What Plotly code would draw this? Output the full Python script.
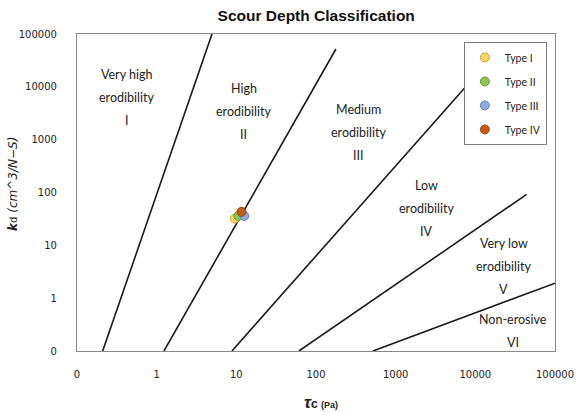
import math
import plotly.graph_objects as go

# Boundary lines (tau_c, k_d) endpoints
line_x = [[0.21, 4.95], [1.235, 178], [8.8, 7380], [61, 44000], [518, 100000]]
line_y = [[0.1, 100000], [0.1, 52000], [0.1, 9600], [0.1, 92], [0.1, 1.92]]

# Sample points
series_names = ["Type I", "Type II", "Type III", "Type IV"]
series_x = [9.6, 10.6, 12.6, 11.6]
series_y = [32, 36, 36, 43]
series_colors = ["#FFD966", "#8BC653", "#8FAADC", "#C55A11"]
series_lines = ["#B8860B", "#4E8A2A", "#4A6FA5", "#8A3A08"]

# Region labels: lines of text, centre position (data units)
region_lines = [["Very high", "erodibility", "I"],
                ["High", "erodibility", "II"],
                ["Medium", "erodibility", "III"],
                ["Low", "erodibility", "IV"],
                ["Very low", "erodibility", "V"],
                ["Non-erosive", "VI"]]
region_x = [0.42, 12.4, 345, 2460, 22800, 29500]
region_y = [6200, 3370, 1355, 50, 4.0, 0.24]

tick_vals = [0.1, 1, 10, 100, 1000, 10000, 100000]
tick_text = ["0", "1", "10", "100", "1000", "10000", "100000"]

x_title = "<b><i><span style='font-size:17px'>τ</span></i>c <span style='font-size:9px'>(Pa)</span></b>"
y_title = "<b><i>k</i></b><span style='font-size:10px'>d</span> <i>(cm^3/N−S)</i>"

fig = go.Figure()
for lx, ly in zip(line_x, line_y):
    fig.add_trace(go.Scatter(x=lx, y=ly, mode="lines",
                             line=dict(color="#1a1a1a", width=1.6),
                             showlegend=False, hoverinfo="skip"))

for n, x, y, c, lc in zip(series_names, series_x, series_y, series_colors, series_lines):
    fig.add_trace(go.Scatter(x=[x], y=[y], mode="markers", name=n, legendgroup=n,
                             marker=dict(size=9, color=c, line=dict(color=lc, width=0.8))))

LINE_GAP = 23
for lines, x, y in zip(region_lines, region_x, region_y):
    k = len(lines)
    for i, t in enumerate(lines):
        fig.add_annotation(x=math.log10(x), y=math.log10(y), text=t, showarrow=False,
                           yshift=((k - 1) / 2 - i) * LINE_GAP,
                           font=dict(family="Lato", size=12.5, color="#222"))

# Axis titles
fig.add_annotation(xref="paper", yref="paper", x=0.51, y=-0.161, text=x_title,
                   showarrow=False, xanchor="center", yanchor="middle",
                   font=dict(family="Liberation Sans", size=12, color="#222"))
fig.add_annotation(xref="paper", yref="paper", x=-0.134, y=0.527, text=y_title,
                   showarrow=False, xanchor="center", yanchor="middle", textangle=-90,
                   font=dict(family="DejaVu Sans", size=12, color="#222"))

fig.update_layout(
    width=576, height=412,
    margin=dict(l=77, r=21, t=34, b=61, autoexpand=False),
    paper_bgcolor="white", plot_bgcolor="white",
    title=dict(text="<b>Scour Depth Classification</b>", x=0.549, xanchor="center",
               y=0.962, yanchor="middle",
               font=dict(family="Liberation Sans", size=15.5, color="#111")),
    xaxis=dict(type="log", range=[-1, 5], tickvals=tick_vals, ticktext=tick_text,
               automargin=False,
               showgrid=False, zeroline=False, showline=True, linecolor="#8a8a8a",
               linewidth=1.2, mirror=True, ticks="", ticklabelstandoff=14,
               tickfont=dict(family="DejaVu Sans", size=10, color="#222")),
    yaxis=dict(type="log", range=[-1, 5], tickvals=tick_vals, ticktext=tick_text,
               automargin=False,
               showgrid=False, zeroline=False, showline=True, linecolor="#8a8a8a",
               linewidth=1.2, mirror=True, ticks="", ticklabelstandoff=17,
               tickfont=dict(family="DejaVu Sans", size=10, color="#222")),
    legend=dict(x=0.983, y=0.975, xanchor="right", yanchor="top",
                bordercolor="#7f7f7f", borderwidth=1, bgcolor="white",
                font=dict(family="Lato", size=10.5, color="#222"),
                tracegroupgap=5, itemsizing="trace", itemwidth=30),
)

fig.write_html("out.html")
